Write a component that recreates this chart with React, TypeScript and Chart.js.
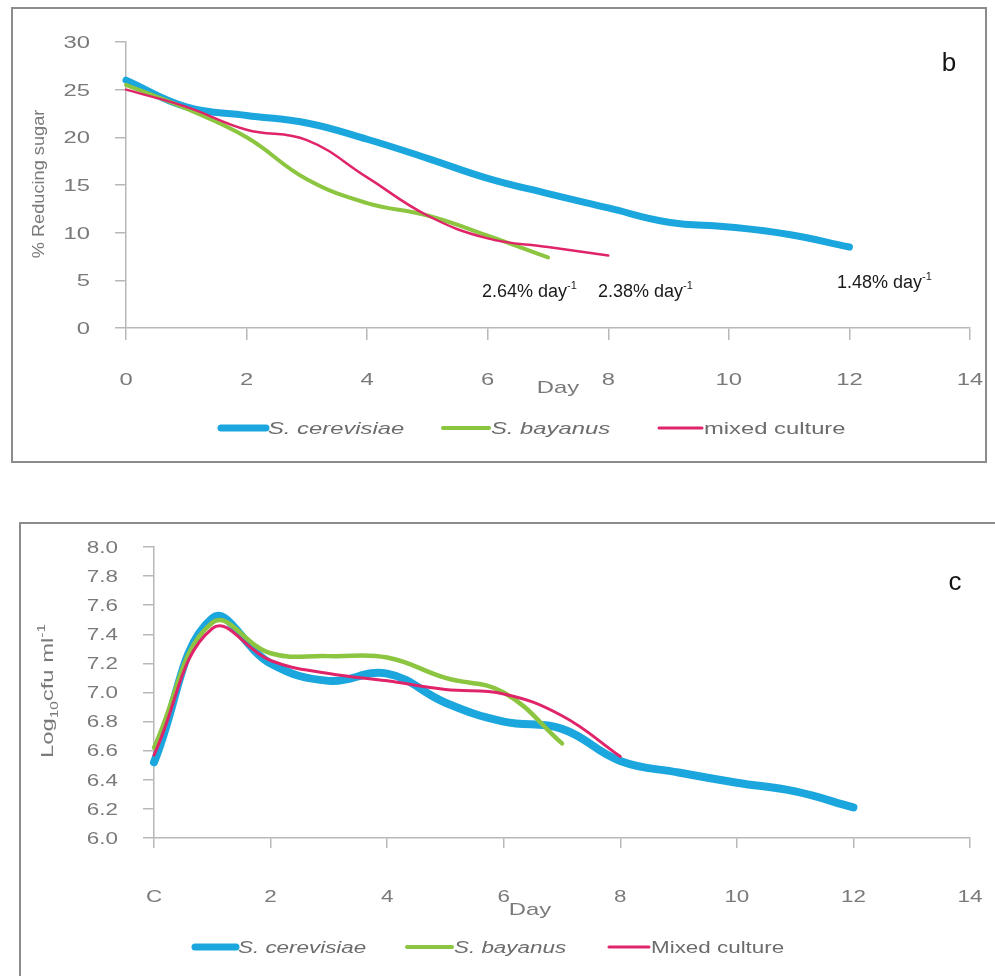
import React, { useEffect, useRef } from "react";
import { Chart, registerables } from "chart.js";
Chart.register(...registerables);

// ---------- Panel b : % reducing sugar ----------
const sugarDaysCerevisiae = [0, 1, 2, 3, 4, 5, 6, 7, 8, 9, 10, 11, 12];
const sugarCerevisiae = [26.0, 23.2, 22.3, 21.5, 19.8, 17.8, 15.7, 14.1, 12.6, 11.1, 10.6, 9.8, 8.5];
const sugarDaysBayanus = [0, 1, 2, 3, 4, 5, 6, 7];
const sugarBayanus = [25.5, 23.0, 20.0, 15.6, 13.1, 11.8, 9.7, 7.4];
const sugarDaysMixed = [0, 1, 2, 3, 4, 5, 6, 7, 8];
const sugarMixed = [25.0, 23.2, 20.8, 19.7, 15.8, 11.8, 9.4, 8.5, 7.6];
const sugarTickValues = [0, 5, 10, 15, 20, 25, 30];
const sugarTickLabels = ["0", "5", "10", "15", "20", "25", "30"];
const sugarDayLabels = ["0", "2", "4", "6", "8", "10", "12", "14"];
const sugarRates = ["2.64% day", "2.38% day", "1.48% day"];
const sugarSeriesNames = ["S. cerevisiae", "S. bayanus", "mixed culture"];

// ---------- Panel c : log10 cfu/ml ----------
const cfuDaysCerevisiae = [0, 1, 2, 3, 4, 5, 6, 7, 8, 9, 10, 11, 12];
const cfuCerevisiae = [6.52, 7.51, 7.2, 7.08, 7.13, 6.93, 6.8, 6.75, 6.53, 6.45, 6.38, 6.32, 6.21];
const cfuDaysBayanus = [0, 1, 2, 3, 4, 5, 6, 7];
const cfuBayanus = [6.62, 7.48, 7.27, 7.25, 7.24, 7.1, 7.0, 6.65];
const cfuDaysMixed = [0, 1, 2, 3, 4, 5, 6, 7, 8];
const cfuMixed = [6.57, 7.44, 7.22, 7.13, 7.08, 7.02, 6.99, 6.84, 6.56];
const cfuTickValues = [6.0, 6.2, 6.4, 6.6, 6.8, 7.0, 7.2, 7.4, 7.6, 7.8, 8.0];
const cfuTickLabels = ["6.0", "6.2", "6.4", "6.6", "6.8", "7.0", "7.2", "7.4", "7.6", "7.8", "8.0"];
const cfuDayLabels = ["C", "2", "4", "6", "8", "10", "12", "14"];
const cfuSeriesNames = ["S. cerevisiae", "S. bayanus", "Mixed culture"];

const dayTickValues = [0, 2, 4, 6, 8, 10, 12, 14];

const BLUE = "#1ba7de";
const GREEN = "#8cc540";
const RED = "#e0246a";
const AXIS = "#b8b8b8";
const GREY = "#7a7a7a";
const FONT = "'Liberation Sans', Arial, sans-serif";

type Run = { text: string; size: number; dy?: number; italic?: boolean };

function drawRuns(
  ctx: CanvasRenderingContext2D,
  runs: Run[],
  x: number,
  y: number,
  align: "left" | "center" | "right",
  color: string,
  sx = 1,
  rotate = false
) {
  ctx.save();
  ctx.translate(x, y);
  if (rotate) ctx.rotate(-Math.PI / 2);
  ctx.scale(sx, 1);
  ctx.fillStyle = color;
  ctx.textBaseline = "alphabetic";
  ctx.textAlign = "left";
  const fontOf = (r: Run) => `${r.italic ? "italic " : ""}${r.size}px ${FONT}`;
  let w = 0;
  for (const r of runs) {
    ctx.font = fontOf(r);
    w += ctx.measureText(r.text).width;
  }
  let cx = align === "center" ? -w / 2 : align === "right" ? -w : 0;
  for (const r of runs) {
    ctx.font = fontOf(r);
    ctx.fillText(r.text, cx, r.dy || 0);
    cx += ctx.measureText(r.text).width;
  }
  ctx.restore();
}

function pts(days: number[], vals: number[]) {
  return days.map((d, i) => ({ x: d, y: vals[i] }));
}

const lineCommon = {
  pointRadius: 0,
  pointHoverRadius: 0,
  tension: 0.42,
  fill: false,
  borderCapStyle: "round" as const,
  borderJoinStyle: "round" as const,
  clip: false as const,
};

type LegendItem = { color: string; width: number; x1: number; x2: number; label: string; italic: boolean };

function drawLegend(ctx: CanvasRenderingContext2D, items: LegendItem[], y: number, size: number, sx: number) {
  for (const it of items) {
    ctx.save();
    ctx.strokeStyle = it.color;
    ctx.lineWidth = it.width;
    ctx.lineCap = "round";
    ctx.beginPath();
    ctx.moveTo(it.x1, y);
    ctx.lineTo(it.x2, y);
    ctx.stroke();
    ctx.restore();
    drawRuns(ctx, [{ text: it.label, size, italic: it.italic }], it.x2 + 2, y + size * 0.36, "left", "#6c6c6c", sx);
  }
}

function drawTicks(
  chart: any,
  xLabels: string[],
  yLabels: string[],
  size: number,
  xBaseline: number,
  yRight: number
) {
  const ctx = chart.ctx as CanvasRenderingContext2D;
  const xs = chart.scales.x;
  const ys = chart.scales.y;
  xs.ticks.forEach((t: any, i: number) => {
    drawRuns(ctx, [{ text: xLabels[i], size }], xs.getPixelForValue(t.value), xBaseline, "center", GREY, 1.4);
  });
  ys.ticks.forEach((t: any, i: number) => {
    drawRuns(ctx, [{ text: yLabels[i], size }], yRight, ys.getPixelForValue(t.value) + size * 0.36, "right", GREY, 1.4);
  });
}

function axisOpts(min: number, max: number, values: number[], tickLength: number, fit: (s: any) => void) {
  return {
    type: "linear" as const,
    min,
    max,
    afterBuildTicks: (s: any) => {
      s.ticks = values.map((v) => ({ value: v }));
    },
    afterFit: fit,
    grid: { drawOnChartArea: false, drawTicks: true, tickLength, color: AXIS, lineWidth: 1.5 },
    border: { display: true, color: AXIS, width: 1.5 },
    ticks: { display: false },
  };
}

function sugarConfig(): any {
  return {
    type: "line",
    data: {
      datasets: [
        { label: sugarSeriesNames[0], data: pts(sugarDaysCerevisiae, sugarCerevisiae), borderColor: BLUE, borderWidth: 7, order: 3, ...lineCommon },
        { label: sugarSeriesNames[1], data: pts(sugarDaysBayanus, sugarBayanus), borderColor: GREEN, borderWidth: 4, order: 2, ...lineCommon },
        { label: sugarSeriesNames[2], data: pts(sugarDaysMixed, sugarMixed), borderColor: RED, borderWidth: 2.5, order: 1, ...lineCommon },
      ],
    },
    options: {
      animation: false,
      responsive: false,
      maintainAspectRatio: false,
      events: [],
      layout: { padding: { left: 0, right: 25, top: 42, bottom: 0 } },
      plugins: { legend: { display: false }, tooltip: { enabled: false } },
      scales: {
        x: axisOpts(0, 14, dayTickValues, 12, (s: any) => { s.height = 142; }),
        y: axisOpts(0, 30, sugarTickValues, 11, (s: any) => { s.width = 126; }),
      },
    },
    plugins: [
      {
        id: "sugarOverlay",
        afterDraw(chart: any) {
          const ctx = chart.ctx as CanvasRenderingContext2D;
          drawTicks(chart, sugarDayLabels, sugarTickLabels, 17, 385, 90);
          drawRuns(ctx, [{ text: "Day", size: 17 }], 558, 393, "center", GREY, 1.4);
          drawRuns(ctx, [{ text: "% Reducing sugar", size: 17 }], 44, 184, "center", GREY, 1.07, true);
          const rateX = [482, 598, 837];
          const rateY = [297, 297, 288];
          sugarRates.forEach((r, i) => {
            drawRuns(ctx, [{ text: r, size: 18 }, { text: "-1", size: 11, dy: -8 }], rateX[i], rateY[i], "left", "#1a1a1a");
          });
          drawRuns(ctx, [{ text: "b", size: 26 }], 949, 71, "center", "#151515");
          drawLegend(
            ctx,
            [
              { color: BLUE, width: 7, x1: 221, x2: 266, label: sugarSeriesNames[0], italic: true },
              { color: GREEN, width: 4, x1: 443, x2: 489, label: sugarSeriesNames[1], italic: true },
              { color: RED, width: 3, x1: 659, x2: 702, label: sugarSeriesNames[2], italic: false },
            ],
            428,
            17,
            1.4
          );
        },
      },
    ],
  };
}

function cfuConfig(): any {
  return {
    type: "line",
    data: {
      datasets: [
        { label: cfuSeriesNames[0], data: pts(cfuDaysCerevisiae, cfuCerevisiae), borderColor: BLUE, borderWidth: 8, order: 3, ...lineCommon },
        { label: cfuSeriesNames[1], data: pts(cfuDaysBayanus, cfuBayanus), borderColor: GREEN, borderWidth: 4.5, order: 2, ...lineCommon },
        { label: cfuSeriesNames[2], data: pts(cfuDaysMixed, cfuMixed), borderColor: RED, borderWidth: 3, order: 1, ...lineCommon },
      ],
    },
    options: {
      animation: false,
      responsive: false,
      maintainAspectRatio: false,
      events: [],
      layout: { padding: { left: 0, right: 25, top: 77, bottom: 0 } },
      plugins: { legend: { display: false }, tooltip: { enabled: false } },
      scales: {
        x: axisOpts(0, 14, dayTickValues, 10, (s: any) => { s.height = 138; }),
        y: axisOpts(6, 8, cfuTickValues, 11, (s: any) => { s.width = 154; }),
      },
    },
    plugins: [
      {
        id: "cfuOverlay",
        afterDraw(chart: any) {
          const ctx = chart.ctx as CanvasRenderingContext2D;
          drawTicks(chart, cfuDayLabels, cfuTickLabels, 16, 432, 118);
          drawRuns(ctx, [{ text: "Day", size: 17 }], 530, 445, "center", GREY, 1.4);
          drawRuns(
            ctx,
            [
              { text: "Log", size: 17 },
              { text: "10", size: 11, dy: 5 },
              { text: "cfu ml", size: 17 },
              { text: "-1", size: 11, dy: -8 },
            ],
            53,
            221,
            "center",
            GREY,
            1.4,
            true
          );
          drawRuns(ctx, [{ text: "c", size: 26 }], 955, 120, "center", "#151515");
          drawLegend(
            ctx,
            [
              { color: BLUE, width: 7, x1: 195, x2: 236, label: cfuSeriesNames[0], italic: true },
              { color: GREEN, width: 4, x1: 407, x2: 452, label: cfuSeriesNames[1], italic: true },
              { color: RED, width: 3, x1: 609, x2: 649, label: cfuSeriesNames[2], italic: false },
            ],
            477,
            16,
            1.4
          );
        },
      },
    ],
  };
}

function ChartCanvas({ make, top, height }: { make: () => any; top: number; height: number }) {
  const ref = useRef<HTMLCanvasElement>(null);
  useEffect(() => {
    const chart = new Chart(ref.current as HTMLCanvasElement, make());
    return () => chart.destroy();
  }, [make]);
  return (
    <canvas
      ref={ref}
      width={995}
      height={height}
      style={{ position: "absolute", left: 0, top, width: 995, height }}
    />
  );
}

export default function App() {
  return (
    <div
      style={{
        position: "fixed",
        left: 0,
        top: 0,
        width: 995,
        height: 976,
        overflow: "hidden",
        background: "#ffffff",
      }}
    >
      <div
        style={{
          position: "absolute",
          left: 11,
          top: 7,
          width: 976,
          height: 456,
          boxSizing: "border-box",
          border: "2px solid #8c8c8c",
        }}
      />
      <div
        style={{
          position: "absolute",
          left: 19,
          top: 522,
          width: 1000,
          height: 500,
          boxSizing: "border-box",
          borderLeft: "2px solid #8c8c8c",
          borderTop: "2px solid #8c8c8c",
        }}
      />
      <ChartCanvas make={sugarConfig} top={0} height={470} />
      <ChartCanvas make={cfuConfig} top={470} height={506} />
    </div>
  );
}
